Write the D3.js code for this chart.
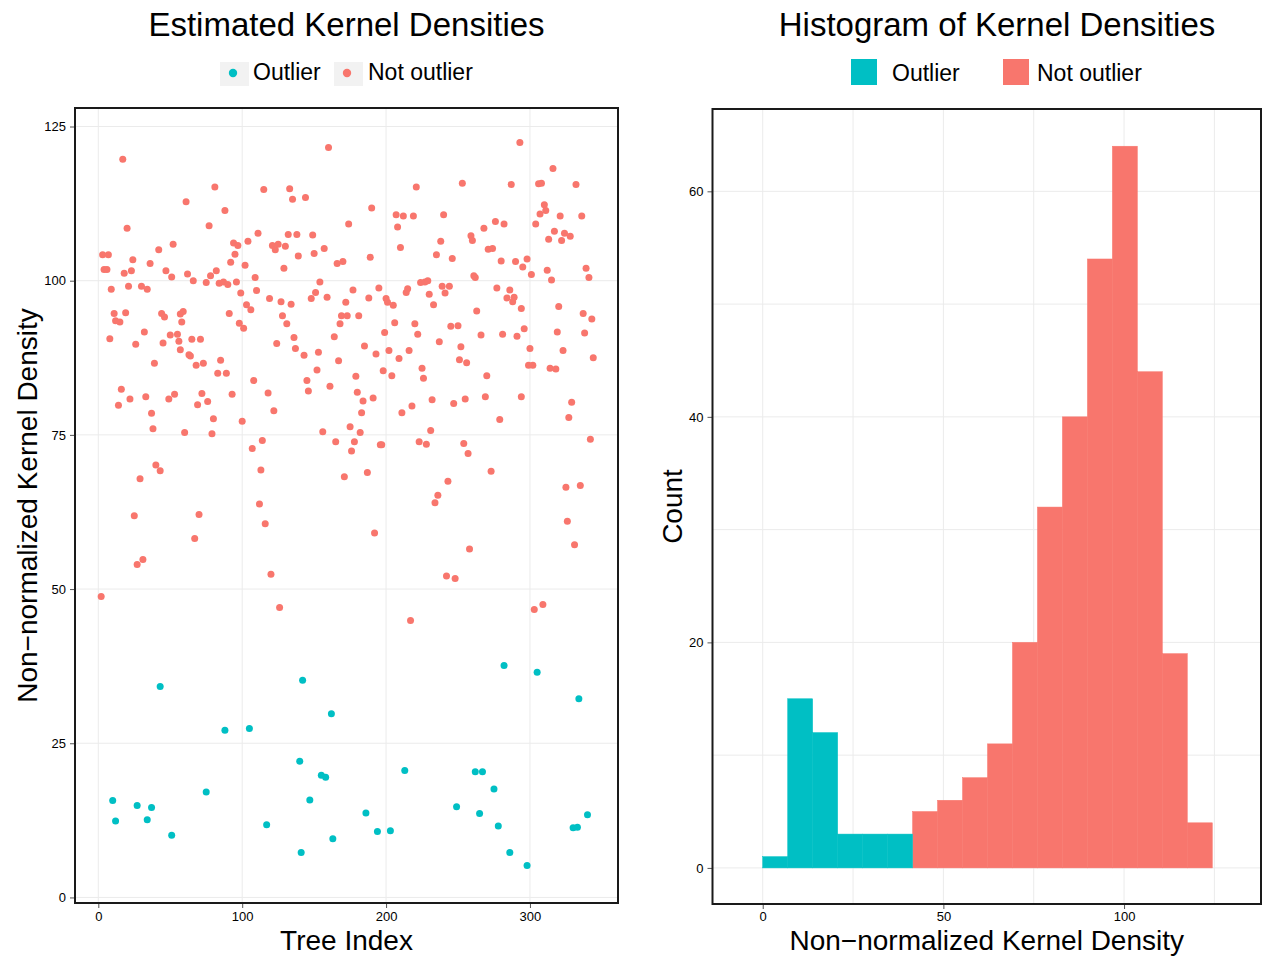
<!DOCTYPE html>
<html>
<head>
<meta charset="utf-8">
<script src="https://cdn.jsdelivr.net/npm/d3@7"></script>
<style>
  body { margin: 0; background: #fff; }
  svg { display: block; }
  text { font-family: "Liberation Sans", Arial, Helvetica, sans-serif; fill: #000; }
</style>
</head>
<body>
<svg id="chart" width="1262" height="957"></svg>
<script>
// ---- Scatter data: tree index and non-normalized kernel density ----
const outlierIndex = [43, 142, 162, 88, 105, 140, 155, 158, 147, 10, 27, 37, 12, 34, 51, 75, 117, 163, 141,
  282, 305, 334, 213, 262, 267, 275, 249, 265, 186, 194, 203, 278, 286, 298, 340, 330, 333];
const outlierDensity = [34.2, 35.2, 29.8, 27.1, 27.4, 22.1, 19.8, 19.5, 15.8, 15.7, 14.9, 14.6, 12.4, 12.6, 10.1, 17.1, 11.8, 9.5, 7.3,
  37.6, 36.5, 32.2, 20.6, 20.4, 20.4, 17.6, 14.7, 13.6, 13.7, 10.7, 10.8, 11.6, 7.3, 5.2, 13.4, 11.3, 11.4];

const inlierIndex = [
  17, 81, 61, 88, 20, 77, 111, 3, 7, 42, 52, 24, 4, 6, 36, 18, 23, 47, 51, 62,
  66, 75, 78, 82, 94, 97, 95, 92, 104, 102, 109, 9, 21, 30, 34, 84, 87, 90, 96, 99,
  110, 11, 19, 12, 15, 44, 46, 57, 59, 58, 91, 98, 101, 103, 106, 8, 32, 26, 45, 50,
  55, 56, 65, 71, 57, 63, 64, 39, 68, 73, 85, 83, 89, 108,
  16, 14, 22, 33, 49, 53, 69, 72, 76, 93, 37, 80, 100, 38, 60, 79, 107, 40, 43, 29,
  25, 70, 67, 27, 31, 2,
  160, 115, 133, 135, 144, 221, 190, 207, 212, 219, 208, 174, 132, 138, 149, 121, 125, 123, 130, 139,
  150, 157, 129, 166, 170, 189, 210, 235, 154, 151, 148, 159, 177, 195, 188, 200, 201, 205, 214, 215,
  224, 227, 229, 230, 233, 119, 127, 134, 128, 131, 172, 169, 173, 181, 168, 206, 220, 222, 199, 136,
  124, 137, 143, 153, 164, 185, 193, 202, 209, 216, 167, 152, 179, 198, 204, 225, 226,
  145, 161, 146, 118, 180, 184, 191, 122, 183, 156, 175, 182, 165, 178, 114, 176, 196, 197, 211, 218,
  232, 231, 223, 228, 113, 171, 187, 112, 116, 192, 236, 234, 120, 126, 217,
  293, 316, 253, 287, 306, 308, 332, 240, 310, 311, 307, 321, 336, 304, 276, 282, 268, 259, 260, 238,
  317, 313, 324, 328, 322, 246, 271, 274, 280, 290, 298, 295, 301, 312, 315, 339, 341, 261, 262, 239,
  244, 241, 277, 286, 284, 289, 288, 294, 263, 320, 337, 343, 245, 250, 266, 281, 291, 296, 319, 338,
  237, 252, 300, 323, 344, 251, 256, 270, 299, 302, 314, 318,
  247, 255, 269, 294, 279, 329, 327, 342, 254, 257, 273, 243, 325, 335, 326, 331, 258, 242, 248, 303, 309
];
const inlierDensity = [
  119.7, 115.2, 112.8, 111.4, 108.5, 108.9, 107.7, 104.2, 104.2, 105.0, 105.9, 103.4, 101.8, 101.8, 102.8, 101.2, 101.6, 101.6, 100.6, 101.1,
  100.0, 99.7, 100.8, 101.6, 106.1, 105.7, 104.3, 103.0, 106.4, 102.5, 100.5, 98.6, 99.1, 99.1, 98.6, 99.6, 99.8, 99.4, 99.8, 98.0,
  98.4, 94.7, 94.8, 93.5, 93.3, 94.7, 94.1, 94.6, 95.0, 93.3, 94.7, 93.1, 92.3, 96.1, 95.3, 90.6, 91.7, 89.7, 89.9, 91.2,
  91.3, 90.2, 90.5, 90.5, 88.8, 88.0, 87.8, 86.6, 86.3, 86.6, 87.1, 85.0, 85.0, 83.8,
  82.4, 79.8, 80.8, 81.2, 80.8, 81.6, 79.9, 81.7, 80.4, 81.6, 78.5, 77.6, 77.2, 76.0, 75.4, 75.2, 72.8, 70.1, 69.2, 67.9,
  61.9, 62.1, 58.2, 54.0, 54.8, 48.8,
  121.6, 114.8, 114.9, 113.2, 113.5, 115.2, 111.8, 110.7, 110.5, 110.5, 108.7, 109.2, 107.5, 107.5, 107.4, 105.7, 105.9, 105.0, 105.6, 104.0,
  104.4, 105.2, 102.0, 102.8, 103.1, 103.8, 105.4, 104.2, 99.8, 98.1, 97.1, 97.3, 98.5, 98.8, 97.2, 97.1, 96.5, 96.0, 98.1, 98.7,
  99.7, 99.8, 100.0, 97.8, 96.1, 97.1, 96.6, 96.2, 94.3, 93.0, 96.5, 94.3, 94.3, 94.3, 93.0, 93.2, 93.0, 91.3, 91.6, 90.8,
  89.8, 89.0, 87.9, 88.4, 90.9, 89.4, 88.1, 88.7, 87.4, 88.7, 87.0, 85.5, 84.5, 85.4, 84.6, 85.8, 84.2,
  83.8, 82.9, 82.1, 81.8, 81.9, 80.5, 81.0, 78.9, 78.6, 75.5, 76.3, 75.4, 73.9, 73.9, 74.1, 72.4, 73.4, 73.4, 78.6, 79.7,
  80.7, 75.7, 73.9, 73.5, 69.3, 68.2, 68.9, 63.8, 60.6, 59.1, 65.2, 64.0, 52.4, 47.0, 44.9,
  122.4, 118.2, 115.8, 115.6, 115.7, 115.8, 115.6, 110.7, 112.3, 111.4, 110.8, 110.5, 110.5, 109.2, 109.6, 109.2, 108.5, 107.3, 106.5, 106.4,
  108.0, 106.7, 107.7, 107.2, 106.5, 103.6, 105.1, 105.2, 103.2, 103.1, 103.5, 102.2, 101.0, 101.7, 100.1, 102.0, 100.5, 100.8, 100.5, 99.1,
  99.1, 98.0, 98.8, 98.5, 97.2, 97.3, 96.6, 95.5, 95.1, 95.8, 94.7, 93.8, 92.6, 92.7, 91.2, 91.3, 91.0, 92.2, 91.7, 91.5,
  90.1, 89.3, 89.0, 88.7, 87.5, 87.2, 86.7, 84.6, 86.3, 86.3, 85.8, 85.7,
  80.1, 80.8, 81.2, 81.2, 77.5, 80.3, 77.8, 74.3, 73.6, 72.0, 69.1, 67.5, 66.5, 66.8, 61.0, 57.2, 56.5, 52.1, 51.7, 46.7, 47.5
];

// ---- Histogram data: bin edges and stacked counts per group ----
const binEdges = [0, 6.91, 13.82, 20.74, 27.65, 34.56, 41.47, 48.38, 55.3, 62.21,
  69.12, 76.03, 82.94, 89.86, 96.77, 103.68, 110.59, 117.5, 124.42];
const outlierCounts = [1, 15, 12, 3, 3, 3, 0, 0, 0, 0, 0, 0, 0, 0, 0, 0, 0, 0];
const inlierCounts  = [0, 0, 0, 0, 0, 0, 5, 6, 8, 11, 20, 32, 40, 54, 64, 44, 19, 4];

// ---- Axis ticks ----
const scatterXTicks = [0, 100, 200, 300];
const scatterYTicks = [0, 25, 50, 75, 100, 125];
const histXTicks = [0, 50, 100];
const histXMinor = [25, 75, 125];
const histYTicks = [0, 20, 40, 60];
const histYMinor = [10, 30, 50];

const groups = ["Outlier", "Not outlier"];
const colors = { "Outlier": "#00BFC4", "Not outlier": "#F8766D" };

const svg = d3.select("#chart");
const GRID = "#ebebeb";
const BORDER = "#1a1a1a";

function styleAxis(a) {
  a.select(".domain").remove();
  a.selectAll(".tick line").attr("stroke", "#555");
  a.selectAll(".tick text").attr("font-size", 13).attr("fill", "#111")
    .style("font-family", '"Liberation Sans", Arial, sans-serif');
}

// ================= Left panel: scatter =================
const L = { left: 75, right: 618, top: 108, bottom: 903 };
const xL = d3.scaleLinear().domain([-16.2, 361.2]).range([L.left, L.right]);
const yL = d3.scaleLinear().domain([-0.9, 128.0]).range([L.bottom, L.top]);

const gL = svg.append("g");
gL.append("g").selectAll("line").data(scatterXTicks).join("line")
  .attr("x1", d => xL(d)).attr("x2", d => xL(d)).attr("y1", L.top).attr("y2", L.bottom)
  .attr("stroke", GRID).attr("stroke-width", 1);
gL.append("g").selectAll("line").data(scatterYTicks).join("line")
  .attr("x1", L.left).attr("x2", L.right).attr("y1", d => yL(d)).attr("y2", d => yL(d))
  .attr("stroke", GRID).attr("stroke-width", 1);

const scatter = [];
outlierIndex.forEach((x, i) => scatter.push({ x, y: outlierDensity[i], g: "Outlier" }));
inlierIndex.forEach((x, i) => scatter.push({ x, y: inlierDensity[i], g: "Not outlier" }));
scatter.sort((a, b) => a.x - b.x);

gL.append("g").selectAll("circle").data(scatter).join("circle")
  .attr("cx", d => xL(d.x)).attr("cy", d => yL(d.y)).attr("r", 3.5)
  .attr("fill", d => colors[d.g]);

const axL = gL.append("g").attr("transform", `translate(${L.left},0)`)
  .call(d3.axisLeft(yL).tickValues(scatterYTicks).tickSize(5).tickPadding(4));
const axB = gL.append("g").attr("transform", `translate(0,${L.bottom})`)
  .call(d3.axisBottom(xL).tickValues(scatterXTicks).tickSize(5).tickPadding(4));
styleAxis(axL); styleAxis(axB);
gL.append("rect").attr("x", L.left).attr("y", L.top)
  .attr("width", L.right - L.left).attr("height", L.bottom - L.top)
  .attr("fill", "none").attr("stroke", BORDER).attr("stroke-width", 2);

gL.append("text").attr("x", (L.left + L.right) / 2).attr("y", 36)
  .attr("text-anchor", "middle").attr("font-size", 33).text("Estimated Kernel Densities");
gL.append("text").attr("x", (L.left + L.right) / 2).attr("y", 950)
  .attr("text-anchor", "middle").attr("font-size", 28).text("Tree Index");
gL.append("text").attr("transform", `translate(37,${(L.top + L.bottom) / 2}) rotate(-90)`)
  .attr("text-anchor", "middle").attr("font-size", 28).text("Non\u2212normalized Kernel Density");

// legend (point keys)
const legL = gL.append("g");
const legLItems = [{ g: "Outlier", bx: 220, tx: 253 }, { g: "Not outlier", bx: 334, tx: 368 }];
legLItems.forEach(it => {
  legL.append("rect").attr("x", it.bx).attr("y", 62).attr("width", 29).attr("height", 24).attr("fill", "#f2f2f2");
  legL.append("circle").attr("cx", it.bx + 13).attr("cy", 73).attr("r", 4.2).attr("fill", colors[it.g]);
  legL.append("text").attr("x", it.tx).attr("y", 80).attr("font-size", 23).text(it.g);
});

// ================= Right panel: histogram =================
const R = { left: 712.5, right: 1261, top: 109, bottom: 904 };
const xR = d3.scaleLinear().domain([-13.9, 137.9]).range([R.left, R.right]);
const yR = d3.scaleLinear().domain([-3.2, 67.3]).range([R.bottom, R.top]);

const gR = svg.append("g");
const gridR = gR.append("g");
gridR.selectAll("line.vx").data(histXTicks.concat(histXMinor)).join("line")
  .attr("x1", d => xR(d)).attr("x2", d => xR(d)).attr("y1", R.top).attr("y2", R.bottom)
  .attr("stroke", GRID).attr("stroke-width", 1);
gridR.selectAll("line.hy").data(histYTicks.concat(histYMinor)).join("line")
  .attr("x1", R.left).attr("x2", R.right).attr("y1", d => yR(d)).attr("y2", d => yR(d))
  .attr("stroke", GRID).attr("stroke-width", 1);

const bins = d3.range(binEdges.length - 1).map(i => ({
  x0: binEdges[i], x1: binEdges[i + 1], out: outlierCounts[i], inl: inlierCounts[i]
}));
// stacked bars: not-outlier at the bottom, outlier above it
gR.append("g").selectAll("rect").data(bins.filter(b => b.inl > 0)).join("rect")
  .attr("x", d => xR(d.x0)).attr("width", d => xR(d.x1) - xR(d.x0))
  .attr("y", d => yR(d.inl)).attr("height", d => yR(0) - yR(d.inl))
  .attr("fill", colors["Not outlier"]).attr("stroke", colors["Not outlier"]).attr("stroke-width", 0.5);
gR.append("g").selectAll("rect").data(bins.filter(b => b.out > 0)).join("rect")
  .attr("x", d => xR(d.x0)).attr("width", d => xR(d.x1) - xR(d.x0))
  .attr("y", d => yR(d.out + d.inl)).attr("height", d => yR(d.inl) - yR(d.out + d.inl))
  .attr("fill", colors["Outlier"]).attr("stroke", colors["Outlier"]).attr("stroke-width", 0.5);

const axRL = gR.append("g").attr("transform", `translate(${R.left},0)`)
  .call(d3.axisLeft(yR).tickValues(histYTicks).tickSize(5).tickPadding(4));
const axRB = gR.append("g").attr("transform", `translate(0,${R.bottom})`)
  .call(d3.axisBottom(xR).tickValues(histXTicks).tickSize(5).tickPadding(3));
styleAxis(axRL); styleAxis(axRB);
gR.append("rect").attr("x", R.left).attr("y", R.top)
  .attr("width", R.right - R.left).attr("height", R.bottom - R.top)
  .attr("fill", "none").attr("stroke", BORDER).attr("stroke-width", 2);

gR.append("text").attr("x", 997).attr("y", 36)
  .attr("text-anchor", "middle").attr("font-size", 33).text("Histogram of Kernel Densities");
gR.append("text").attr("x", (R.left + R.right) / 2).attr("y", 950)
  .attr("text-anchor", "middle").attr("font-size", 28).text("Non\u2212normalized Kernel Density");
gR.append("text").attr("transform", `translate(682,${(R.top + R.bottom) / 2}) rotate(-90)`)
  .attr("text-anchor", "middle").attr("font-size", 28).text("Count");

const legR = gR.append("g");
const legRItems = [{ g: "Outlier", bx: 851, tx: 892 }, { g: "Not outlier", bx: 1003, tx: 1037 }];
legRItems.forEach(it => {
  legR.append("rect").attr("x", it.bx).attr("y", 59).attr("width", 26).attr("height", 26).attr("fill", colors[it.g]);
  legR.append("text").attr("x", it.tx).attr("y", 81).attr("font-size", 23).text(it.g);
});
</script>
</body>
</html>
